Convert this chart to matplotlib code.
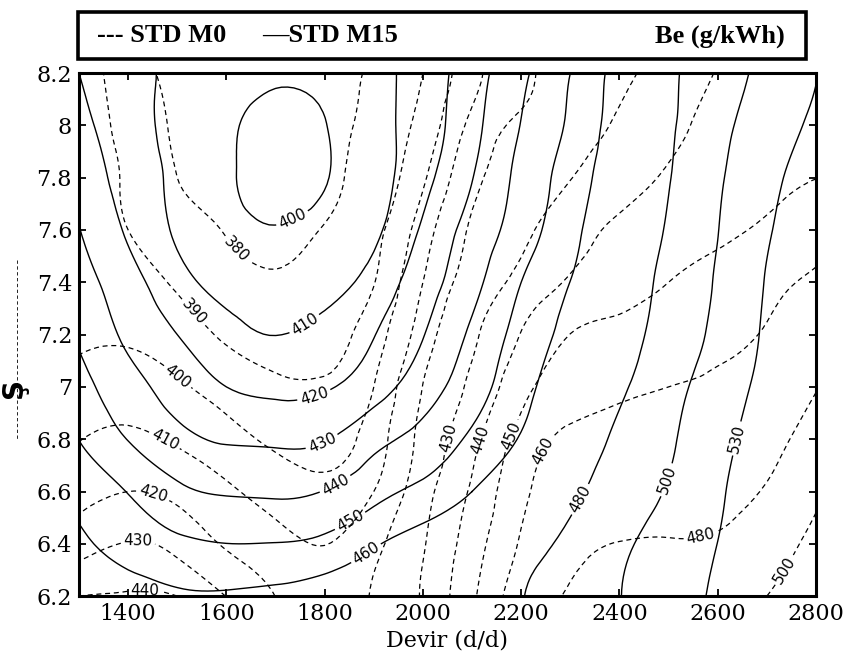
import numpy as np
import matplotlib
matplotlib.use("Agg")
import matplotlib.pyplot as plt
import matplotlib.tri as mtri
from matplotlib.patches import Rectangle
from matplotlib.lines import Line2D

# grid
devir = [1300, 1400, 1500, 1600, 1700, 1800, 1900, 2000,
         2100, 2200, 2300, 2400, 2500, 2600, 2700, 2800]
sarj = [6.2, 6.4, 6.6, 6.8, 7.0, 7.2, 7.4, 7.6, 7.8, 8.0, 8.2]

# Be (g/kWh), STD M15 (solid), rows = sarj, cols = devir
be_m15 = [
    [470, 465, 461.5, 461.3, 462.5, 465, 468, 471.5, 475.5, 479.5, 488.8, 499.4, 516.8, 535.7, 568, 603],
    [462, 456, 452, 450.1, 450.3, 452.5, 459, 464.6, 470.3, 475.9, 483.2, 495.7, 510.2, 530.3, 562, 597],
    [457, 449.6, 442, 439.1, 438.5, 440.3, 446.7, 452.5, 460, 468.6, 476.9, 488.3, 501.9, 525.1, 556, 590],
    [449.8, 439.7, 432.7, 429, 428.3, 429.4, 437, 443.3, 451.7, 460.8, 471.7, 482.5, 496.6, 519.8, 548, 582],
    [443.5, 433.6, 426.1, 420, 417.5, 419, 425.7, 435.4, 445.6, 456.6, 467.3, 477.8, 492.1, 513.2, 540, 575],
    [438.5, 428, 420, 413, 409.9, 412.7, 419.7, 429.6, 441.7, 453.4, 463.3, 473.6, 486.7, 505.9, 535, 568],
    [434, 423.9, 413.4, 407, 405, 406.5, 413.7, 425.5, 437, 450, 460.1, 470.9, 484.3, 502.4, 532, 565],
    [430.3, 418.6, 408.8, 403, 400.4, 402.5, 408, 421.4, 433.5, 445, 457, 469, 481.4, 499.5, 526.7, 555],
    [426, 416, 408, 401.5, 396.5, 399.5, 406, 417, 429.7, 442.8, 454.5, 467, 479.3, 497, 521, 548],
    [422.5, 414.3, 407, 401.5, 397, 399.7, 406.5, 415, 427, 440.3, 451.6, 465, 477.7, 494, 513, 537],
    [420, 413.4, 408, 404.5, 401.5, 402.5, 407, 414.5, 425.5, 438, 450, 464, 477, 491, 506, 529],
]

# Be (g/kWh), STD M0 (dashed)
be_m0 = [
    [440, 441, 440, 429.8, 419.9, 415, 420.8, 431, 448.3, 466.8, 482, 486, 489.5, 494, 500, 512],
    [425.9, 430.5, 427.1, 418.9, 413.4, 409.8, 417.5, 429.2, 445.3, 461.2, 475, 480.4, 480.9, 482, 490.7, 505],
    [416.6, 420, 417.7, 411.6, 405.9, 402.7, 410, 426.3, 441.4, 457.7, 467, 472, 473.9, 475.1, 481.4, 496.5],
    [409.7, 411.9, 408.7, 403.4, 398.2, 396.5, 404.8, 422.9, 437.1, 453.6, 462.3, 466, 467.5, 468.4, 474.3, 487.8],
    [403.5, 404.8, 401.4, 396.2, 391.6, 390.9, 400, 420.2, 431.8, 446.8, 454.5, 457.5, 460, 461.8, 467.7, 479.1],
    [398.5, 398.7, 394.7, 388.7, 386.3, 387, 395.3, 415, 428.5, 440.4, 450.1, 452.6, 455.2, 457.7, 461, 470.6],
    [397, 394.2, 388.8, 383.9, 381.5, 383, 389.6, 410, 424.1, 432.7, 441.2, 445.6, 450, 453.6, 457.2, 462.1],
    [396, 390, 384.3, 379.4, 376.5, 380.5, 387, 405.1, 421.1, 427.9, 435.8, 441.6, 444.7, 447.9, 451.5, 455.6],
    [395.5, 388.5, 380, 376, 374, 377.5, 384.3, 398.4, 417.3, 424.2, 429.7, 435.8, 441, 444.1, 447.5, 449.9],
    [395, 387, 378.5, 374, 372.5, 376, 382.9, 393.5, 412.6, 421.4, 426.1, 431.2, 437.5, 442.5, 446, 448.5],
    [395, 385, 377, 373, 372, 375, 381.2, 390, 406.7, 418.1, 423.7, 428.1, 433.9, 440.5, 445, 446.5],
]

levels_m15 = [400, 410, 420, 430, 440, 450, 460, 480, 500, 530]
levels_m0 = [380, 390, 400, 410, 420, 430, 440, 450, 460, 480, 500]

xticks = [1400, 1600, 1800, 2000, 2200, 2400, 2600, 2800]
yticks = [6.2, 6.4, 6.6, 6.8, 7.0, 7.2, 7.4, 7.6, 7.8, 8.0, 8.2]
ytick_labels = ["6.2", "6.4", "6.6", "6.8", "7", "7.2", "7.4", "7.6", "7.8", "8", "8.2"]


def smooth_field(z):
    # triangulate in index space, refine with a cubic interpolator
    nx, ny = len(devir), len(sarj)
    ii, jj = np.meshgrid(np.arange(nx), np.arange(ny))
    t = mtri.Triangulation(ii.ravel().astype(float), jj.ravel().astype(float))
    refiner = mtri.UniformTriRefiner(t)
    tr, zr = refiner.refine_field(np.asarray(z, float).ravel(), subdiv=3)
    xr = np.interp(tr.x, np.arange(nx), devir)
    yr = np.interp(tr.y, np.arange(ny), sarj)
    return mtri.Triangulation(xr, yr, tr.triangles), zr


fig = plt.figure(figsize=(8.46, 6.58), dpi=100)
ax = fig.add_axes([0.0934, 0.094, 0.8711, 0.795])

t15, z15 = smooth_field(be_m15)
t0, z0 = smooth_field(be_m0)

cs15 = ax.tricontour(t15, z15, levels=levels_m15, colors="black", linewidths=1.0)
cs0 = ax.tricontour(t0, z0, levels=levels_m0, colors="black", linewidths=0.9,
                    linestyles=[(0, (4, 3))])

lab15 = [(1735, 7.64), (1766, 7.22), (1776, 6.98), (1794, 6.79), (1821, 6.63),
         (1851, 6.49), (1882, 6.37), (2330, 6.56), (2503, 6.64), (2645, 6.80)]
lab0 = [(1617, 7.52), (1530, 7.28), (1501, 7.04), (1475, 6.80), (1449, 6.58),
        (1420, 6.40), (1434, 6.23), (2061, 6.80), (2116, 6.80), (2171, 6.82),
        (2238, 6.76), (2564, 6.44), (2727, 6.31)]
ax.clabel(cs15, fmt="%d", fontsize=11, inline=True, inline_spacing=3, manual=lab15)
ax.clabel(cs0, fmt="%d", fontsize=11, inline=True, inline_spacing=3, manual=lab0)

ax.set_xlim(1300, 2800)
ax.set_ylim(6.2, 8.2)
ax.set_xticks(xticks)
ax.set_xticklabels([str(v) for v in xticks], family="DejaVu Serif", fontsize=16)
ax.set_yticks(yticks)
ax.set_yticklabels(ytick_labels, family="DejaVu Serif", fontsize=16)
ax.tick_params(direction="in", top=True, right=True, length=5, width=1.3, pad=5)
for s in ax.spines.values():
    s.set_linewidth(2.2)
ax.set_xlabel("Devir (d/d)", family="DejaVu Serif", fontsize=16, labelpad=3)

# legend box on top
fig.patches.append(Rectangle((78 / 846, 1 - 59 / 658), 728 / 846, 47 / 658,
                             transform=fig.transFigure, fill=False,
                             edgecolor="black", linewidth=2.6))
ty = 1 - 36 / 658
fig.text(97 / 846, ty, "--- STD M0", family="Liberation Serif", fontweight="bold",
         fontsize=19, va="center")
fig.text(262 / 846, ty, "\u2014STD M15", family="Liberation Serif", fontweight="bold",
         fontsize=19, va="center")
fig.text(655 / 846, ty, "Be (g/kWh)", family="Liberation Serif", fontweight="bold",
         fontsize=19, va="center")

# remains of the covered y label
fig.text(14 / 846, 1 - 388 / 658, "\u015e", rotation=90, fontweight="bold",
         fontsize=20, ha="center", va="center")
fig.lines.append(Line2D([17 / 846, 17 / 846], [1 - 260 / 658, 1 - 440 / 658],
                        transform=fig.transFigure, color="black", lw=0.6,
                        linestyle=(0, (4, 3))))

fig.savefig("out.png", dpi=100)
